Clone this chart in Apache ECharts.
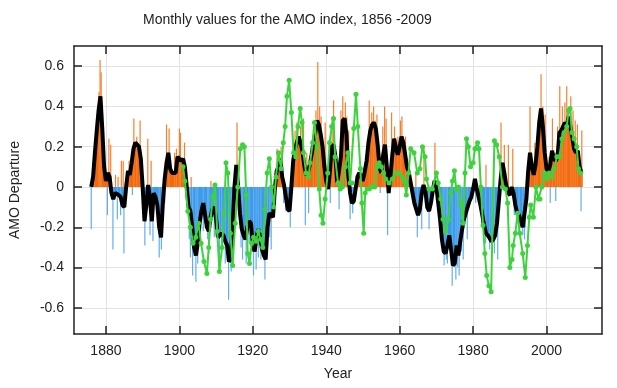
<!DOCTYPE html>
<html><head><meta charset="utf-8">
<script src="https://cdn.jsdelivr.net/npm/echarts@6/dist/echarts.min.js"></script>
<style>html,body{margin:0;padding:0;background:#fff}#c{width:617px;height:388px}</style>
</head><body><div id="c"></div>
<script>
// Smoothed AMO (black line), half-year steps starting 1876.0
const smoothStartYear = 1876;
const smoothStepYears = 0.5;
const smoothValues = [
 0.00, 0.05, 0.17, 0.28, 0.38, 0.45, 0.29, 0.10,
 0.03, 0.07, 0.05, -0.03, -0.06, -0.03, -0.03, -0.04,
 -0.05, -0.09, -0.10, 0.00, 0.08, 0.06, 0.12, 0.19,
 0.22, 0.21, 0.20, 0.14, 0.00, -0.17, -0.09, 0.01,
 -0.06, -0.17, -0.03, -0.05, -0.09, -0.20, -0.25, -0.08,
 0.04, 0.12, 0.17, 0.09, 0.07, 0.07, 0.07, 0.15,
 0.15, 0.13, 0.14, 0.10, 0.00, -0.10, -0.12, -0.20,
 -0.30, -0.34, -0.28, -0.18, -0.12, -0.08, -0.14, -0.20,
 -0.22, -0.15, -0.11, -0.10, -0.16, -0.25, -0.24, -0.23,
 -0.24, -0.27, -0.29, -0.37, -0.36, -0.20, 0.00, 0.11,
 0.00, -0.13, -0.21, -0.24, -0.26, -0.20, -0.17, -0.18,
 -0.29, -0.32, -0.25, -0.21, -0.25, -0.31, -0.34, -0.36,
 -0.20, -0.13, -0.13, -0.15, -0.01, 0.08, 0.10, 0.14,
 0.05, 0.01, -0.05, -0.11, -0.12, 0.00, 0.13, 0.19,
 0.22, 0.25, 0.22, 0.18, 0.11, 0.06, 0.07, 0.11,
 0.16, 0.22, 0.27, 0.33, 0.31, 0.26, 0.20, 0.10,
 0.03, -0.01, 0.08, 0.20, 0.21, 0.15, 0.02, 0.02,
 0.15, 0.33, 0.34, 0.26, 0.06, -0.03, -0.08, -0.07,
 -0.01, 0.05, 0.07, 0.05, 0.03, 0.03, 0.13, 0.22,
 0.28, 0.31, 0.32, 0.29, 0.21, 0.10, 0.07, 0.16,
 0.21, 0.10, -0.03, 0.06, 0.16, 0.24, 0.19, 0.16,
 0.20, 0.25, 0.22, 0.16, 0.10, 0.07, 0.02, -0.03,
 -0.08, -0.11, -0.14, -0.11, -0.03, 0.01, -0.02, -0.10,
 -0.12, -0.08, -0.02, 0.03, 0.00, -0.08, -0.16, -0.26,
 -0.32, -0.33, -0.29, -0.24, -0.31, -0.39, -0.38, -0.29,
 -0.34, -0.27, -0.21, -0.16, -0.13, -0.10, -0.07, -0.05,
 -0.01, 0.04, -0.01, -0.05, -0.09, -0.14, -0.19, -0.23,
 -0.24, -0.24, -0.27, -0.26, -0.24, -0.18, -0.07, 0.04,
 0.12, 0.07, 0.01, -0.03, -0.04, 0.00, -0.03, -0.09,
 -0.13, -0.14, -0.17, -0.20, -0.20, -0.06, 0.08, 0.17,
 0.10, 0.06, 0.11, 0.20, 0.32, 0.39, 0.30, 0.17,
 0.09, 0.08, 0.11, 0.18, 0.14, 0.13, 0.15, 0.27,
 0.28, 0.30, 0.32, 0.30, 0.35, 0.30, 0.25, 0.19,
 0.17, 0.18, 0.10, 0.07
];

// Individual monthly extremes (thin spikes)
const spikeYears = [
 1876.0, 1876.7, 1878.1, 1878.4, 1878.7, 1880.4, 1880.8, 1881.3, 1881.9, 1882.6, 1883.1, 1883.3,
 1884.0, 1884.2, 1884.7, 1884.9, 1886.3, 1887.2, 1887.6, 1888.4, 1889.3, 1890.6, 1891.4, 1892.0,
 1892.3, 1892.8, 1894.5, 1895.1, 1896.0, 1896.5, 1897.2, 1898.7, 1899.2, 1900.0, 1900.3, 1901.4,
 1902.7, 1903.2, 1903.6, 1904.5, 1907.7, 1908.6, 1910.9, 1913.4, 1914.1, 1915.7, 1917.2, 1918.2,
 1920.2, 1920.9, 1922.2, 1923.3, 1925.0, 1926.6, 1927.7, 1928.4, 1930.2, 1932.0, 1933.8, 1934.3,
 1934.7, 1935.2, 1937.7, 1938.6, 1939.7, 1941.1, 1942.0, 1943.5, 1944.5, 1945.2, 1946.1, 1946.5,
 1947.2, 1951.7, 1952.4, 1953.8, 1954.7, 1955.9, 1956.7, 1957.8, 1960.6, 1961.6, 1964.4, 1964.8,
 1966.0, 1966.6, 1968.0, 1969.6, 1972.1, 1972.7, 1974.3, 1975.3, 1976.2, 1977.3, 1978.4, 1980.7,
 1983.4, 1983.5, 1984.5, 1985.1, 1986.7, 1987.6, 1988.5, 1989.6, 1990.8, 1991.2, 1993.5, 1995.5,
 1998.5, 1999.6, 2000.7, 2001.0, 2001.6, 2002.4, 2002.5, 2003.6, 2005.5, 2006.6, 2008.4, 2009.4,
 2009.6,
 1929.0, 1931.5, 1933.0, 1936.5, 1937.2, 1938.2, 1941.6, 1944.0, 1945.6, 1952.9, 1953.3, 1955.4,
 1956.3, 1958.6, 1959.5, 1960.2,
 1903.0, 1905.0, 1906.5, 1908.0, 1909.5, 1911.5, 1912.5, 1916.8, 1919.0, 1921.5, 1924.0, 1924.6,
 1971.8, 1973.0, 1975.8, 1976.8, 1982.3, 1985.8, 1992.5, 1994.0,
 1996.8, 1997.4, 1999.0, 2003.0, 2004.3, 2005.0, 2007.2, 2007.8
];
const spikeValues = [
 -0.21, 0.15, 0.47, 0.63, 0.57, -0.14, 0.24, 0.21, -0.31, 0.06, -0.16, 0.05,
 -0.14, 0.13, 0.13, -0.33, 0.13, -0.04, 0.34, 0.25, 0.33, -0.29, 0.24, -0.24,
 0.13, -0.27, -0.35, -0.31, -0.08, 0.31, 0.29, 0.17, 0.19, 0.29, 0.27, 0.22,
 -0.26, 0.05, -0.44, -0.47, -0.26, 0.03, -0.42, -0.56, -0.42, 0.32, -0.36, -0.38,
 -0.44, -0.41, -0.36, -0.46, -0.31, 0.19, 0.20, -0.08, -0.20, 0.32, 0.34, -0.19,
 0.17, -0.13, 0.62, 0.35, 0.32, -0.08, 0.43, -0.11, 0.45, 0.42, 0.28, -0.16,
 -0.13, 0.43, 0.37, 0.36, -0.03, 0.40, -0.24, 0.37, 0.35, 0.25, 0.07, -0.25,
 -0.21, 0.20, -0.21, 0.22, -0.39, -0.36, -0.49, -0.46, -0.44, -0.36, -0.26, -0.08,
 -0.28, 0.11, -0.31, -0.29, -0.36, 0.32, 0.21, 0.21, 0.19, -0.14, -0.24, 0.40,
 0.56, 0.36, 0.15, -0.08, 0.34, 0.17, -0.07, 0.50, 0.50, 0.45, 0.31, -0.12,
 0.28,
 -0.12, 0.28, 0.30, 0.30, 0.38, 0.40, 0.35, 0.38, 0.35, 0.40, 0.33, 0.30,
 0.34, 0.30, 0.25, 0.33,
 -0.35, -0.38, -0.22, -0.33, -0.25, -0.35, -0.38, -0.30, -0.28, -0.35, -0.30, -0.25,
 -0.33, -0.38, -0.40, -0.32, -0.20, -0.33, -0.22, -0.26,
 0.22, 0.25, 0.40, 0.30, 0.40, 0.42, 0.38, 0.33
];

// Green series with markers
const greenYears = [
 1901.0, 1901.5, 1902.3, 1903.0, 1903.7, 1904.5, 1905.2, 1905.9, 1906.7, 1907.5, 1908.0, 1908.5,
 1909.1, 1909.7, 1910.3, 1910.9, 1911.6, 1912.2, 1912.7, 1913.2, 1913.9, 1914.5, 1915.2, 1915.9,
 1916.6, 1917.2, 1917.7, 1918.2, 1918.6, 1919.1, 1919.7, 1920.2, 1920.9, 1921.5, 1922.1, 1922.7,
 1923.3, 1923.9, 1924.5, 1925.1, 1925.7, 1926.3, 1927.0, 1927.7, 1928.3, 1928.8, 1929.3, 1929.9,
 1930.5, 1931.1, 1931.7, 1932.3, 1932.9, 1933.4, 1933.8, 1934.5, 1935.2, 1935.6, 1936.3, 1936.8,
 1937.5, 1938.1, 1938.6, 1939.1, 1939.7, 1940.4, 1940.9, 1941.5, 1942.0, 1942.4, 1943.2, 1943.8,
 1944.4, 1945.2, 1945.9, 1946.5, 1947.0, 1947.5, 1948.1, 1948.6, 1949.3, 1949.7, 1950.2, 1950.6,
 1951.1, 1951.7, 1952.4, 1953.2, 1953.8, 1954.4, 1955.0, 1955.6, 1956.2, 1957.1, 1958.0, 1958.9,
 1959.8, 1960.7, 1961.3, 1961.8, 1962.4, 1963.0, 1963.9, 1964.8, 1965.5, 1966.2, 1966.9, 1967.3,
 1968.0, 1968.9, 1970.0, 1970.5, 1971.2, 1971.8, 1972.5, 1973.3, 1973.9, 1974.4, 1974.9, 1975.4,
 1976.0, 1976.6, 1977.3, 1977.8, 1978.2, 1978.7, 1979.3, 1980.0, 1980.5, 1981.2, 1981.6, 1982.1,
 1982.7, 1983.2, 1983.7, 1984.3, 1984.9, 1985.8, 1986.4, 1987.1, 1988.0, 1988.8, 1989.4, 1990.0,
 1990.6, 1990.9, 1991.5, 1992.1, 1992.7, 1993.5, 1994.2, 1994.8, 1995.3, 1995.7, 1996.4, 1997.1,
 1997.8, 1998.2, 1998.7, 1999.4, 2000.0, 2000.7, 2001.5, 2002.1, 2002.8, 2003.5, 2004.2, 2004.8,
 2005.5, 2006.0, 2006.4, 2006.9, 2007.5, 2008.2, 2008.7, 2009.3
];
const greenValues = [
 0.10, 0.03, -0.12, -0.20, -0.28, -0.25, -0.18, -0.28, -0.37, -0.43, -0.30, -0.16,
 -0.05, 0.01, -0.22, -0.42, -0.30, -0.13, 0.12, 0.07, -0.23, -0.39, -0.18, 0.00,
 0.19, 0.21, 0.20, -0.04, -0.33, -0.38, -0.28, -0.25, -0.27, -0.22, -0.26, -0.30,
 -0.11, 0.07, 0.14, 0.00, -0.10, 0.05, 0.17, 0.09, 0.22, 0.30, 0.45, 0.53,
 0.37, 0.17, 0.15, 0.30, 0.39, 0.32, 0.17, 0.07, 0.05, 0.12, 0.22, 0.32,
 0.20, -0.01, -0.14, -0.18, -0.06, 0.07, 0.22, 0.30, 0.34, 0.15, 0.02, -0.01,
 0.00, 0.10, 0.17, 0.02, 0.02, 0.29, 0.46, 0.30, 0.09, -0.08, -0.23, -0.03,
 -0.01, -0.01, 0.00, 0.00, 0.10, 0.12, 0.10, 0.07, 0.04, 0.02, 0.04, 0.07,
 0.07, 0.05, 0.03, -0.04, 0.07, 0.19, 0.17, 0.07, 0.09, 0.20, 0.15, 0.04,
 -0.01, -0.01, 0.07, 0.02, -0.06, -0.16, -0.22, -0.16, -0.03, 0.03, 0.08, -0.01,
 0.00, -0.08, -0.18, 0.07, 0.24, 0.20, 0.10, 0.12, 0.19, 0.22, 0.19, 0.00,
 -0.19, -0.33, -0.44, -0.49, -0.52, 0.23, 0.21, 0.15, 0.00, -0.01, -0.08, -0.40,
 -0.36, -0.29, -0.23, -0.13, -0.23, -0.33, -0.45, -0.29, -0.15, -0.09, -0.15, 0.00,
 -0.06, -0.06, 0.00, 0.07, 0.04, 0.07, 0.05, 0.09, 0.15, 0.15, 0.24, 0.27,
 0.30, 0.38, 0.39, 0.27, 0.24, 0.20, 0.09, 0.07
];

const xTicks = [1880, 1900, 1920, 1940, 1960, 1980, 2000];
const yTicks = [-0.6, -0.4, -0.2, 0, 0.2, 0.4, 0.6];

const smoothData = smoothValues.map((v, i) => [smoothStartYear + i * smoothStepYears, v]);
const spikeData = spikeYears.map((y, i) => [y, spikeValues[i]]);
const greenData = greenYears.map((y, i) => [y, greenValues[i]]);

const FONT = 'Liberation Sans, Arial, sans-serif';
const X_MIN = 1871.3, X_MAX = 2015.1, Y_MIN = -0.73, Y_MAX = 0.70;
const boxLine = { show: true, onZero: false, lineStyle: { color: '#222', width: 1.5 } };
const tickStyle = { color: '#222', width: 1.5 };

const chart = echarts.init(document.getElementById('c'), null, { renderer: 'canvas' });
chart.setOption({
  animation: false,
  backgroundColor: '#fff',
  title: {
    text: 'Monthly values for the AMO index, 1856 -2009',
    left: 138, top: 8,
    textStyle: { fontFamily: FONT, fontSize: 14, fontWeight: 'normal', color: '#222' }
  },
  grid: { left: 74, right: 15, top: 46, bottom: 54 },
  xAxis: [
    {
      type: 'value', min: X_MIN, max: X_MAX, position: 'bottom',
      axisLine: boxLine,
      axisTick: { show: true, inside: true, length: 8, customValues: xTicks, lineStyle: tickStyle },
      axisLabel: { customValues: xTicks, color: '#222', fontFamily: FONT, fontSize: 14, margin: 10,
                   formatter: v => String(Math.round(v)) },
      splitLine: { show: true, lineStyle: { color: '#e2e2e2', width: 1 } },
      name: 'Year', nameLocation: 'middle', nameGap: 33,
      nameTextStyle: { fontFamily: FONT, fontSize: 14, color: '#222' }
    },
    {
      type: 'value', min: X_MIN, max: X_MAX, position: 'top',
      axisLine: boxLine,
      axisTick: { show: true, inside: true, length: 8, customValues: xTicks, lineStyle: tickStyle },
      axisLabel: { show: false },
      splitLine: { show: false }
    }
  ],
  yAxis: [
    {
      type: 'value', min: Y_MIN, max: Y_MAX, position: 'left',
      axisLine: boxLine,
      axisTick: { show: true, inside: true, length: 8, customValues: yTicks, lineStyle: tickStyle },
      axisLabel: {
        customValues: yTicks, color: '#222', fontFamily: FONT, fontSize: 14, margin: 10,
        formatter: v => (Math.abs(v) < 1e-9 ? '0' : v.toFixed(1))
      },
      splitLine: { show: true, lineStyle: { color: '#e2e2e2', width: 1 } },
      name: 'AMO Departure', nameLocation: 'middle', nameGap: 52, nameRotate: 90,
      nameTextStyle: { fontFamily: FONT, fontSize: 14, color: '#222' }
    },
    {
      type: 'value', min: Y_MIN, max: Y_MAX, position: 'right',
      axisLine: boxLine,
      axisTick: { show: true, inside: true, length: 8, customValues: yTicks, lineStyle: tickStyle },
      axisLabel: { show: false },
      splitLine: { show: false }
    }
  ],
  series: [
    {
      name: 'fill', type: 'bar', xAxisIndex: 0, yAxisIndex: 0,
      data: smoothData, barWidth: 2.6, z: 1,
      itemStyle: { color: p => (p.value[1] >= 0 ? '#f4690e' : '#3d9be9') }
    },
    {
      name: 'monthly', type: 'bar', xAxisIndex: 1, yAxisIndex: 0,
      data: spikeData, barWidth: 1.2, z: 2,
      itemStyle: { color: p => (p.value[1] >= 0 ? '#f3812f' : '#62aef0') }
    },
    {
      name: 'smoothed', type: 'line', xAxisIndex: 0, yAxisIndex: 0,
      data: smoothData, showSymbol: false, symbol: 'none', z: 3,
      lineStyle: { color: '#000', width: 4 }
    },
    {
      name: 'green', type: 'line', xAxisIndex: 0, yAxisIndex: 0,
      data: greenData, symbol: 'circle', symbolSize: 5, z: 4,
      lineStyle: { color: '#3fd23f', width: 2 },
      itemStyle: { color: '#3fd23f' }
    }
  ]
});
</script>
</body></html>
